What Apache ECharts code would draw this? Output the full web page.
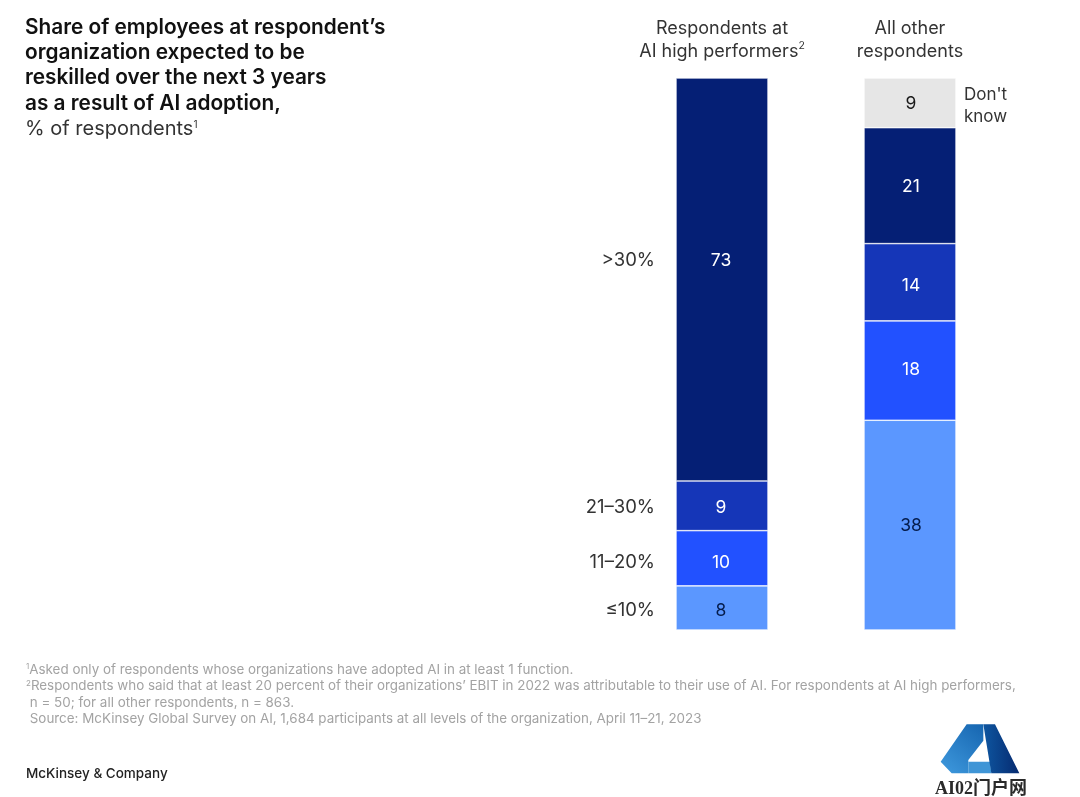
<!DOCTYPE html>
<html>
<head>
<meta charset="utf-8">
<title>Reskilling</title>
<script src="https://cdn.jsdelivr.net/npm/echarts@6/dist/echarts.min.js"></script>
<style>
html, body { margin: 0; padding: 0; background: #fff; }
#chart { width: 1080px; height: 797px; }
</style>
</head>
<body>
<div id="chart"></div>
<script>
// chart data
const categories = ['Respondents at\nAI high performers{sup|2}', 'All other\nrespondents'];
const bandNames = ['≤10%', '11–20%', '21–30%', '>30%', "Don't\nknow"];
const under10 = [8, 38];
const from11to20 = [10, 18];
const from21to30 = [9, 14];
const over30 = [73, 21];
const dontKnow = [null, 9];
const bandValues = [under10, from11to20, from21to30, over30, dontKnow];

const titleLines = [
    'Share of employees at respondent’s',
    'organization expected to be',
    'reskilled over the next 3 years',
    'as a result of AI adoption,'
];
const footnotes = [
    '{sup|1}Asked only of respondents whose organizations have adopted AI in at least 1 function.',
    '{sup|2}Respondents who said that at least 20 percent of their organizations’ EBIT in 2022 was attributable to their use of AI. For respondents at AI high performers,',
    ' n = 50; for all other respondents, n = 863.',
    ' Source: McKinsey Global Survey on AI, 1,684 participants at all levels of the organization, April 11–21, 2023'
];

// styles
const bandColors = ['#5B97FF', '#2251FF', '#1536B8', '#051F75', '#E6E6E6'];
const labelColors = ['#051C4C', '#ffffff', '#ffffff', '#ffffff', '#1a1a1a'];
// the source does not centre every number in its segment, >30% sits well above the middle
const labelNudge = [[3, 1], [4, -1], [2, 3], [-19, 1], [0, 1]];
const fontName = 'Inter, "Noto Sans", sans-serif';

const chart = echarts.init(document.getElementById('chart'), null, { renderer: 'canvas' });

const series = bandNames.map(function (name, i) {
    return {
        name: name,
        type: 'bar',
        stack: 'total',
        barWidth: 92,
        data: bandValues[i].map(function (v, col) {
            return {
                value: v,
                label: { offset: [col === 0 ? -1 : 1, labelNudge[i][col]] }
            };
        }),
        itemStyle: { color: bandColors[i], borderColor: '#fff', borderWidth: 0.6 },
        label: {
            show: true,
            position: 'inside',
            color: labelColors[i],
            fontFamily: fontName,
            fontSize: 17.5
        },
        silent: true
    };
});

chart.setOption({
    animation: false,
    backgroundColor: '#fff',
    grid: { left: 628, top: 78, width: 376, height: 552 },
    xAxis: {
        type: 'category',
        position: 'top',
        data: categories,
        axisLine: { show: false },
        axisTick: { show: false },
        axisLabel: {
            margin: 15,
            color: '#333',
            fontFamily: fontName,
            fontSize: 18,
            lineHeight: 23,
            interval: 0,
            rich: { sup: { fontSize: 10.5, verticalAlign: 'top', lineHeight: 23, color: '#333', fontFamily: fontName, padding: [0, 0, 6, 0] } }
        }
    },
    yAxis: { type: 'value', min: 0, max: 100, show: false },
    series: series
});

// texts around the plot
const graphics = [];
titleLines.forEach(function (line, i) {
    graphics.push({
        type: 'text', left: 25, top: 17 + i * 25.3,
        style: { text: line, fill: '#111', font: '600 20.8px ' + fontName }
    });
});
graphics.push({
    type: 'text', left: 25, top: 119,
    style: {
        text: '% of respondents{sup|1}', fill: '#333', font: '20px ' + fontName,
        rich: { sup: { fontSize: 10, fill: '#333', fontFamily: fontName, padding: [0, 0, 8, 0] } }
    }
});
footnotes.forEach(function (line, i) {
    graphics.push({
        type: 'text', left: 26, top: 663 + i * 16.6,
        style: {
            text: line, fill: '#a3a3a3', font: '13.4px ' + fontName,
            rich: { sup: { fontSize: 8, fill: '#a3a3a3', fontFamily: fontName, padding: [0, 0, 5, 0] } }
        }
    });
});
graphics.push({
    type: 'text', left: 26, top: 767,
    style: { text: 'McKinsey & Company', fill: '#222', font: '500 13.5px ' + fontName }
});

// band names sit beside the bars, level with the number of their segment
let base = 0;
for (let i = 0; i < 4; i++) {
    const mid = base + bandValues[i][0] / 2;
    const p = chart.convertToPixel({ xAxisIndex: 0, yAxisIndex: 0 }, [0, mid]);
    graphics.push({
        type: 'text', x: p[0] - 67, y: p[1] + labelNudge[i][0],
        style: { text: bandNames[i], fill: '#333', font: '18.5px ' + fontName, align: 'right', verticalAlign: 'middle' }
    });
    base += bandValues[i][0];
}
const dkMid = 100 - dontKnow[1] / 2;
const dk = chart.convertToPixel({ xAxisIndex: 0, yAxisIndex: 0 }, [1, dkMid]);
graphics.push({
    type: 'text', x: dk[0] + 54, y: dk[1] + 3,
    style: { text: bandNames[4], fill: '#333', font: '17px ' + fontName, lineHeight: 22, align: 'left', verticalAlign: 'middle' }
});

// logo stamp, bottom right
graphics.push({
    type: 'group', x: 920, y: 710, scaleX: 1 / 3, scaleY: 1 / 3, silent: true,
    children: [
        { type: 'polygon', shape: { points: [[62, 155], [140, 43], [190, 43], [190, 92], [145, 150], [145, 190], [95, 190]] },
            style: { fill: new echarts.graphic.LinearGradient(0, 1, 1, 0, [{ offset: 0, color: '#3f9ade' }, { offset: 1, color: '#1665b0' }]) } },
        { type: 'polygon', shape: { points: [[145, 155], [210, 155], [214, 190], [145, 190]] }, style: { fill: '#3f95d6' } },
        { type: 'polygon', shape: { points: [[190, 43], [225, 43], [298, 190], [214, 190], [198, 92]] },
            style: { fill: new echarts.graphic.LinearGradient(0, 0, 1, 0, [{ offset: 0, color: '#0e56a0' }, { offset: 1, color: '#062a70' }]) } }
    ]
});
graphics.push({
    type: 'text', x: 981, y: 789,
    style: { text: 'AI02门户网', fill: '#2a2a2a', font: '600 18px "Liberation Serif", "Noto Sans CJK SC", serif', align: 'center', verticalAlign: 'middle' }
});

chart.setOption({ graphic: graphics });
</script>
</body>
</html>
